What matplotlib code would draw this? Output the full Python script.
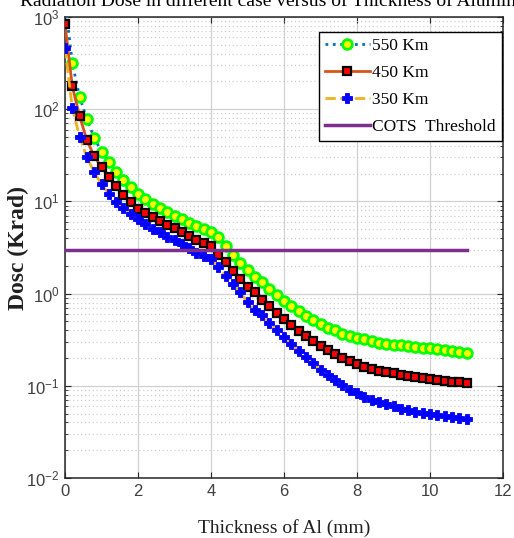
import numpy as np
import matplotlib
matplotlib.use("Agg")
from matplotlib import pyplot as plt
from matplotlib.ticker import LogLocator, NullFormatter

# thickness of Al (mm)
thickness = [0.0, 0.2, 0.4, 0.6, 0.8, 1.0, 1.2, 1.4, 1.6, 1.8,
             2.0, 2.2, 2.4, 2.6, 2.8, 3.0, 3.2, 3.4, 3.6, 3.8,
             4.0, 4.2, 4.4, 4.6, 4.8, 5.0, 5.2, 5.4, 5.6, 5.8,
             6.0, 6.2, 6.4, 6.6, 6.8, 7.0, 7.2, 7.4, 7.6, 7.8,
             8.0, 8.2, 8.4, 8.6, 8.8, 9.0, 9.2, 9.4, 9.6, 9.8,
             10.0, 10.2, 10.4, 10.6, 10.8, 11.0]

dose_550 = [1500, 317, 136, 78, 49, 34.7, 26.7, 21.1, 16.9, 14.2,
            12.1, 10.5, 9.3, 8.4, 7.7, 7.0, 6.4, 5.86, 5.37, 4.98,
            4.62, 4.13, 3.3, 2.64, 2.16, 1.82, 1.5, 1.33, 1.12, 0.975,
            0.84, 0.725, 0.64, 0.566, 0.513, 0.464, 0.428, 0.40, 0.368, 0.347,
            0.331, 0.318, 0.305, 0.292, 0.283, 0.278, 0.274, 0.269, 0.265, 0.26,
            0.256, 0.25, 0.244, 0.24, 0.234, 0.228]

dose_450 = [840, 177, 84, 46, 31, 23.6, 18.4, 14.6, 11.8, 9.8,
            8.3, 7.46, 6.75, 6.1, 5.6, 5.1, 4.68, 4.24, 3.86, 3.52,
            3.27, 2.65, 2.19, 1.78, 1.44, 1.19, 1.05, 0.855, 0.725, 0.614,
            0.534, 0.453, 0.394, 0.345, 0.307, 0.271, 0.244, 0.219, 0.199, 0.186,
            0.172, 0.161, 0.152, 0.143, 0.14, 0.137, 0.131, 0.128, 0.124, 0.121,
            0.119, 0.116, 0.113, 0.111, 0.11, 0.107]

dose_350 = [460, 103, 50, 30, 20.8, 15.3, 12.1, 9.95, 8.4, 7.3,
            6.4, 5.7, 5.08, 4.6, 4.16, 3.8, 3.44, 3.12, 2.79, 2.57,
            2.37, 1.92, 1.57, 1.27, 1.03, 0.806, 0.67, 0.58, 0.48, 0.40,
            0.339, 0.281, 0.24, 0.207, 0.175, 0.149, 0.131, 0.116, 0.1025, 0.0906,
            0.0834, 0.0755, 0.0707, 0.0668, 0.064, 0.06, 0.0566, 0.0543, 0.0521, 0.0508,
            0.0496, 0.0488, 0.0468, 0.046, 0.045, 0.0438]

cots_x = [0, 11]
cots_y = [3, 3]

labels = ["550 Km", "450 Km", "350 Km", "COTS  Threshold"]
xticks = [0, 2, 4, 6, 8, 10, 12]

serif = ["Liberation Serif", "DejaVu Serif"]
narrow = ["Liberation Sans Narrow", "Liberation Sans", "DejaVu Sans"]
tick_grey = "#404040"

fig = plt.figure(figsize=(5.14, 5.38), dpi=100)
ax = fig.add_axes([65 / 514, 1 - 478 / 538, 438 / 514, 461 / 538])

ax.plot(thickness, dose_550, linestyle=":", color="#0072BD", lw=2,
        marker="o", ms=7, mfc="yellow", mec="#00FF00", mew=2, label=labels[0], zorder=3)
ax.plot(thickness, dose_450, linestyle="-", color="#D95319", lw=2,
        marker="s", ms=6, mfc="red", mec="black", mew=1.6, label=labels[1], zorder=4)
ax.plot(thickness, dose_350, linestyle="--", color="#EDB120", lw=2,
        marker="P", ms=7.5, mfc="blue", mec="blue", mew=0.6, label=labels[2], zorder=5)
ax.plot(cots_x, cots_y, linestyle="-", color="#7E2F8E", lw=2.5, label=labels[3], zorder=6)

ax.set_yscale("log")
ax.set_ylim(1e-2, 1e3)
ax.set_xlim(0, 12)
ax.set_xticks(xticks)
ax.yaxis.set_major_locator(LogLocator(base=10, numticks=10))
ax.yaxis.set_minor_locator(LogLocator(base=10, subs=np.arange(2, 10), numticks=20))
ax.yaxis.set_minor_formatter(NullFormatter())

ax.grid(True, which="major", color="#d0d0d0", lw=0.9)
ax.grid(True, which="minor", axis="y", color="#c8c8c8", lw=0.8, linestyle=(0, (1, 2.5)))
ax.set_axisbelow(True)

ax.tick_params(which="both", direction="in", top=True, right=True, color="#262626")
ax.tick_params(which="major", length=4, labelsize=12, labelcolor=tick_grey, pad=4)
ax.tick_params(which="minor", length=2)
for lab in ax.get_xticklabels() + ax.get_yticklabels():
    lab.set_family(narrow)
for sp in ax.spines.values():
    sp.set_color("#262626")
    sp.set_linewidth(1.1)

ax.set_xlabel("Thickness of Al (mm)", family=serif, fontsize=14, color="#202020", labelpad=15)
ax.set_ylabel("Dosc (Krad)", family=serif, fontsize=17, fontweight="bold", color="#202020")
ax.yaxis.set_label_coords(-0.083, 0.5)

fig.text(20 / 514, 1 - 6 / 538, "Radiation Dose in different case versus of Thickness of Aluminum",
         family=serif, fontsize=14, ha="left", va="baseline", color="black")

leg = ax.legend(loc="upper right", bbox_to_anchor=(0.998, 0.968), prop={"family": serif, "size": 12.5},
                frameon=True, fancybox=False, framealpha=1, edgecolor="black",
                handlelength=2.6, handletextpad=0.15, borderaxespad=0.0, labelspacing=0.62,
                borderpad=0.35)
leg.get_frame().set_linewidth(1.0)

fig.savefig("out.png", dpi=100)
